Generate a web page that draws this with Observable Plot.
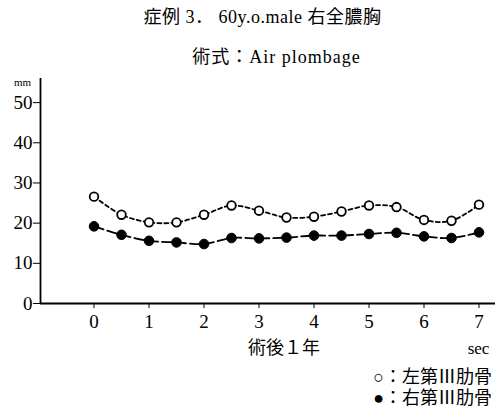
<!DOCTYPE html>
<html>
<head>
<meta charset="utf-8">
<script src="https://cdn.jsdelivr.net/npm/d3@7"></script>
<script src="https://cdn.jsdelivr.net/npm/@observablehq/plot@0.6"></script>
<style>
  body { margin: 0; background: #fff; width: 503px; height: 411px; overflow: hidden; }
  .txt { font-family: "Liberation Serif", "Noto Sans CJK JP", serif; color: #000; }
  #head { position: relative; height: 72px; }
  #title { position: absolute; left: 0; width: 503px; top: 5px; text-align: center; font-size: 18px; line-height: 24px; letter-spacing: 0.5px; padding-left: 22px; box-sizing: border-box; white-space: pre; }
  #subtitle { position: absolute; left: 0; width: 503px; top: 45px; text-align: center; font-size: 18px; line-height: 24px; letter-spacing: 1px; padding-left: 50px; box-sizing: border-box; white-space: pre; }
  #legend { position: relative; height: 51px; }
  .leg { position: absolute; right: 11px; font-size: 18px; line-height: 22px; }
</style>
</head>
<body>
<div id="head" class="txt">
  <div id="title">症例 3． 60y.o.male 右全膿胸</div>
  <div id="subtitle">術式：Air plombage</div>
</div>
<div id="chart"></div>
<div id="legend" class="txt">
  <div class="leg" style="top:6px">○：左第Ⅲ肋骨</div>
  <div class="leg" style="top:27px">●：右第Ⅲ肋骨</div>
</div>
<script>
// time in seconds
const times = [0, 0.5, 1, 1.5, 2, 2.5, 3, 3.5, 4, 4.5, 5, 5.5, 6, 6.5, 7];
// ○ 左第Ⅲ肋骨 (mm)
const leftRib = [26.6, 22.1, 20.2, 20.2, 22.1, 24.4, 23.1, 21.4, 21.6, 22.9, 24.4, 24.0, 20.8, 20.6, 24.6];
// ● 右第Ⅲ肋骨 (mm)
const rightRib = [19.2, 17.1, 15.6, 15.2, 14.8, 16.3, 16.2, 16.4, 16.9, 16.9, 17.3, 17.6, 16.7, 16.3, 17.7];
const xTicks = [0, 1, 2, 3, 4, 5, 6, 7];
const yTicks = [0, 10, 20, 30, 40, 50];
const xDomain = [-0.973, 7.3];
const yDomain = [0, 56];
const xLabel = "術後１年";
const xUnit = "sec";
const yUnit = "mm";

const leftData = times.map((t, i) => ({t, v: leftRib[i]}));
const rightData = times.map((t, i) => ({t, v: rightRib[i]}));

const font = '"Liberation Serif", "Noto Sans CJK JP", serif';

const chart = Plot.plot({
  width: 503,
  height: 288,
  marginLeft: 40,
  marginRight: 8,
  marginTop: 6,
  marginBottom: 57,
  style: { fontFamily: font, fontSize: "19px", color: "#000", background: "#fff", overflow: "visible" },
  x: { domain: xDomain, ticks: xTicks, tickSize: 5, tickPadding: 6, label: null, tickFormat: d => String(d) },
  y: { domain: yDomain, ticks: yTicks, tickSize: 7, tickPadding: 1, label: null, tickFormat: d => String(d) },
  marks: [
    Plot.ruleY([yDomain[0]], { stroke: "#000", strokeWidth: 1.8 }),
    Plot.ruleX([xDomain[0]], { stroke: "#000", strokeWidth: 1.8 }),
    Plot.line(leftData, { x: "t", y: "v", curve: "catmull-rom", stroke: "#000", strokeWidth: 1.8, strokeDasharray: "4,3" }),
    Plot.line(rightData, { x: "t", y: "v", curve: "catmull-rom", stroke: "#000", strokeWidth: 1.8, strokeDasharray: "10,4" }),
    Plot.dot(leftData, { x: "t", y: "v", r: 4.3, fill: "#fff", stroke: "#000", strokeWidth: 1.8 }),
    Plot.dot(rightData, { x: "t", y: "v", r: 4.8, fill: "#000", stroke: "#000", strokeWidth: 1 }),
    Plot.text([yUnit], { frameAnchor: "top-left", text: d => d, dx: -18, dy: 0, fontSize: 11, textAnchor: "middle" }),
    Plot.text([xLabel], { frameAnchor: "bottom", text: d => d, dx: 16, dy: 50, fontSize: 18 }),
    Plot.text([xUnit], { frameAnchor: "bottom-right", text: d => d, dx: -17, dy: 50, fontSize: 17, textAnchor: "middle" })
  ]
});
document.getElementById("chart").appendChild(chart);
</script>
</body>
</html>
